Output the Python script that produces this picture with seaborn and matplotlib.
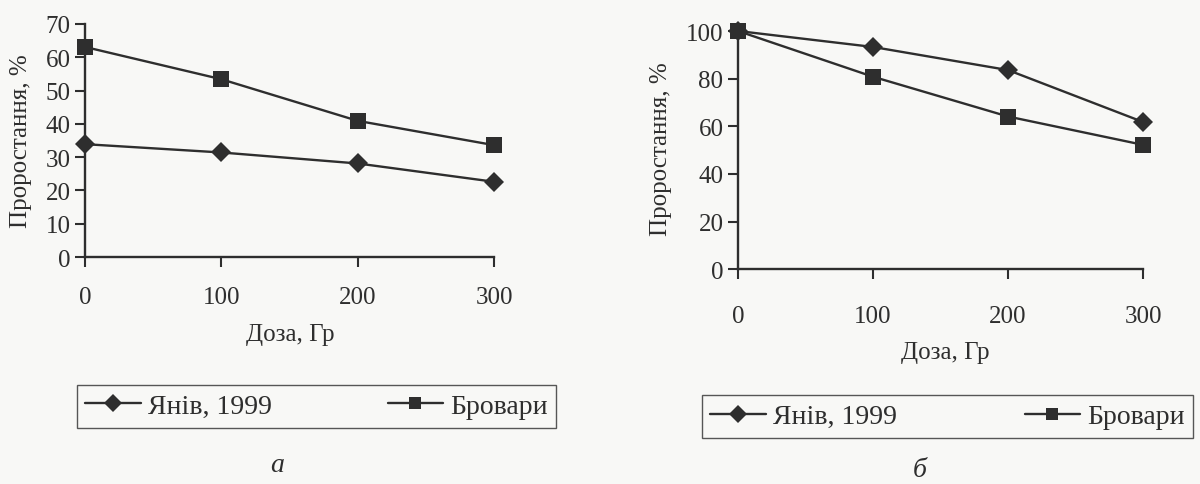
import pandas as pd
import matplotlib
matplotlib.use("Agg")
import matplotlib.pyplot as plt
import seaborn as sns

# Data
doses = [0, 100, 200, 300]
series_names = ["Янів, 1999", "Бровари"]
yaniv_a = [33.9, 31.4, 28.1, 22.6]
brovary_a = [63.1, 53.4, 40.9, 33.6]
yaniv_b = [100, 93.3, 83.6, 61.8]
brovary_b = [100, 80.8, 64.1, 52.2]

ylim_a, yticks_a = (0, 70), list(range(0, 71, 10))
ylim_b, yticks_b = (0, 100), list(range(0, 101, 20))

sns.set_theme(style="ticks")
plt.rcParams['font.family'] = ['Liberation Serif', 'DejaVu Serif']
plt.rcParams['font.size'] = 18

INK = "#2e2e2e"
BG = "#f8f8f6"


def make_df(yaniv, brovary):
    return pd.DataFrame({
        "dose": doses * 2,
        "value": yaniv + brovary,
        "series": [series_names[0]] * len(doses) + [series_names[1]] * len(doses),
    })


def draw_panel(ax, df, ylim, yticks):
    sns.lineplot(data=df, x="dose", y="value", hue="series", style="series",
                 palette=[INK, INK], markers={series_names[0]: "D", series_names[1]: "s"},
                 dashes=False, linewidth=1.7, markeredgewidth=0,
                 ax=ax, legend=False, clip_on=False)
    for line in ax.lines:
        if line.get_marker() == "s":
            line.set_markersize(12)
        else:
            line.set_markersize(10)
    ax.set_xlim(0, 300)
    ax.set_ylim(*ylim)
    ax.set_xticks(doses)
    ax.set_yticks(yticks)
    ax.set_facecolor(BG)
    sns.despine(ax=ax)
    for s in ("left", "bottom"):
        ax.spines[s].set_color(INK)
        ax.spines[s].set_linewidth(1.7)
    ax.tick_params(colors=INK, labelsize=18, length=7, width=1.5, direction="out")
    ax.set_xlabel("")
    ax.set_ylabel("Проростання, %", fontsize=18, color=INK)


fig = plt.figure(figsize=(12, 4.85), dpi=100)
fig.patch.set_facecolor(BG)

ax_a = fig.add_axes([0.0708, 0.468, 0.341, 0.4805])
ax_b = fig.add_axes([0.615, 0.443, 0.3375, 0.491])

draw_panel(ax_a, make_df(yaniv_a, brovary_a), ylim_a, yticks_a)
draw_panel(ax_b, make_df(yaniv_b, brovary_b), ylim_b, yticks_b)
ax_a.xaxis.set_tick_params(pad=14)
ax_b.xaxis.set_tick_params(pad=19)
ax_a.yaxis.set_label_coords(-0.13, 0.5)
ax_b.yaxis.set_label_coords(-0.163, 0.51)

fig.text(290 / 1200, 1 - 335 / 485, "Доза, Гр", ha="center", va="center", fontsize=18, color=INK)
fig.text(945 / 1200, 1 - 353 / 485, "Доза, Гр", ha="center", va="center", fontsize=18, color=INK)

handles = [
    plt.Line2D([], [], color=INK, lw=1.7, marker="D", markersize=9, markeredgewidth=0),
    plt.Line2D([], [], color=INK, lw=1.7, marker="s", markersize=9, markeredgewidth=0),
]
for box in [(88 / 1200, 1 - 430 / 485, 457 / 1200, 45 / 485),
            (713 / 1200, 1 - 440 / 485, 469 / 1200, 45 / 485)]:
    leg = fig.legend(handles, series_names, loc="center", bbox_to_anchor=box, mode="expand",
                     ncol=2, fontsize=20, frameon=True, fancybox=False, handlelength=2.0,
                     handletextpad=0.25, borderaxespad=-0.4, borderpad=0.3)
    leg.get_frame().set_edgecolor(INK)
    leg.get_frame().set_linewidth(1.0)
    leg.get_frame().set_facecolor(BG)
    for t in leg.get_texts():
        t.set_color(INK)

fig.text(277 / 1200, 1 - 466 / 485, "а", ha="center", va="center", fontsize=20,
         style="italic", color=INK)
fig.text(920 / 1200, 1 - 471 / 485, "б", ha="center", va="center", fontsize=20,
         style="italic", color=INK)

fig.savefig("out.png", dpi=100, facecolor=BG)
